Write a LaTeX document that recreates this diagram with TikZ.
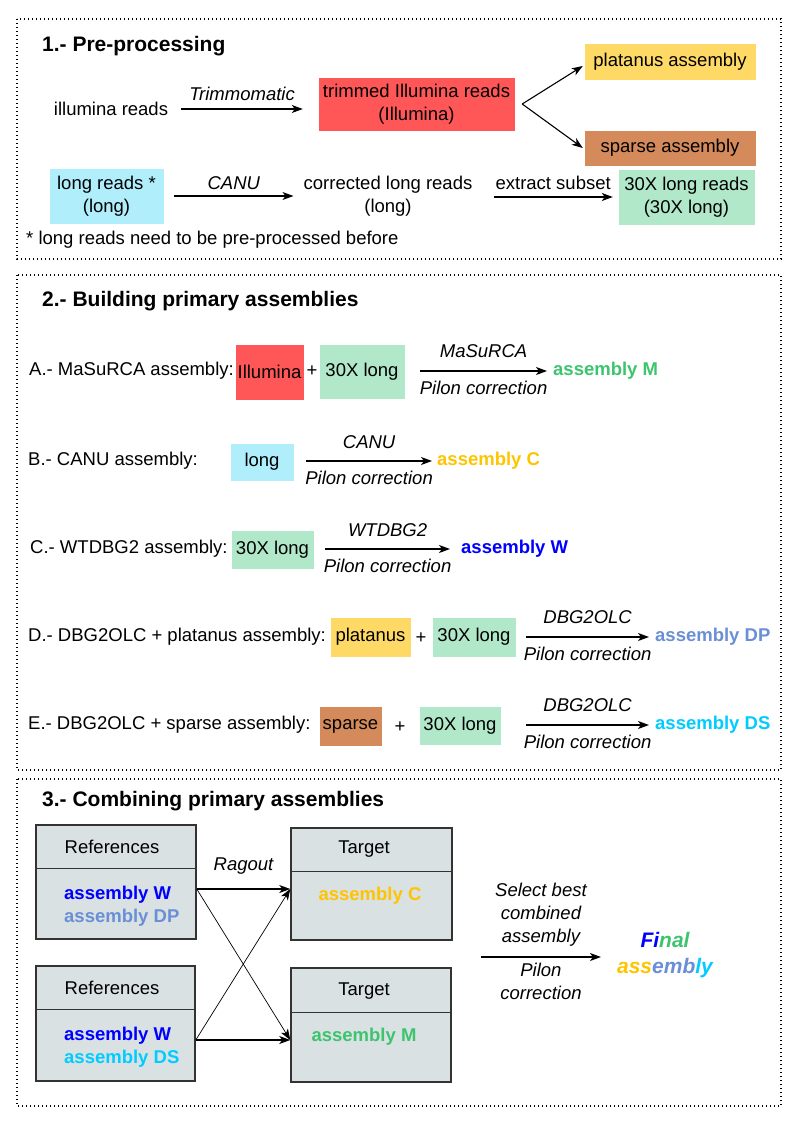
\documentclass[tikz,border=0pt]{standalone}
\usepackage{fontspec}
\setmainfont{Liberation Sans}
\usetikzlibrary{arrows.meta}
\usetikzlibrary{positioning}
\definecolor{asm-red}{HTML}{FF5757}
\definecolor{asm-yellow}{HTML}{FFD966}
\definecolor{asm-brown}{HTML}{D58A5B}
\definecolor{asm-blue}{HTML}{B0EEFC}
\definecolor{asm-green}{HTML}{B0E8C9}
\definecolor{asm-grey}{HTML}{DAE1E3}
\definecolor{asm-edge}{HTML}{333333}
\definecolor{asm-m}{HTML}{3CC46E}
\definecolor{asm-c}{HTML}{FFC400}
\definecolor{asm-w}{HTML}{0000FF}
\definecolor{asm-dp}{HTML}{6A8FD6}
\definecolor{asm-ds}{HTML}{00CCFF}

\begin{document}
\begin{tikzpicture}[x=1pt,y=-1pt,
  every node/.style={inner sep=2pt},
  font=\fontsize{18.5}{23}\selectfont,
  frame/.style={draw, line width=1.3pt, dash pattern=on 1.3pt off 2.7pt},
  ttl/.style={anchor=west, font=\fontsize{21}{25}\selectfont\bfseries},
  box/.style={fill=#1, draw=#1, inner sep=0pt, align=center},
  lbl/.style={font=\fontsize{18.5}{23}\selectfont\itshape, align=center},
  res/.style={anchor=west, text=#1, font=\fontsize{18.5}{23}\selectfont\bfseries},
  grey/.style={draw=asm-edge, line width=1.5pt, fill=asm-grey, inner sep=0pt},
  arr/.style={-{Stealth[length=11pt,width=8pt,inset=3pt]}, line width=1.1pt}]
\useasboundingbox (0,0) rectangle (794,1123);

% 1.- pre-processing
\draw[frame] (17,19) rectangle (781,259);
\node[ttl] (t1) at (40,46) {1.- Pre-processing};
\node (illumina) at (111,109) {illumina reads};
\node[box=asm-red, minimum width=195, minimum height=52] (trimmed) at (416.5,104) {trimmed Illumina reads\\(Illumina)};
\draw[arr] ([xshift=11pt]illumina.east) -- node[above=6pt, lbl] {Trimmomatic} ([xshift=-16pt]trimmed.west |- illumina.east);
\node[box=asm-yellow, minimum width=170, minimum height=35] (platanus) at (670,61.5) {platanus assembly};
\node[box=asm-brown, minimum width=170, minimum height=34] (sparse) at (670,148) {sparse assembly};
\coordinate (fork) at ([xshift=8pt]trimmed.east);
\draw[arr] (fork) -- ([xshift=-2pt,yshift=-4.5pt]platanus.west);
\draw[arr] (fork) -- ([xshift=-2pt]sparse.west);
\node[box=asm-blue, minimum width=113, minimum height=54] (longreads) at (106.5,196) {long reads *\\(long)};
\node[align=center] (corrected) at (388,196) {corrected long reads\\(long)};
\draw[arr] ([xshift=11pt]longreads.east) -- node[above=4pt, lbl] {CANU} ([xshift=-8pt]corrected.west);
\node[box=asm-green, minimum width=135, minimum height=54] (long30) at (686.5,197) {30X long reads\\(30X long)};
\draw[arr] ([xshift=19pt]corrected.east |- long30.west) -- node[above=5pt] {extract subset} ([xshift=-6pt]long30.west);
\node[anchor=west] (note) at (24,240) {* long reads need to be pre-processed before};

% 2.- primary assemblies
\draw[frame] (17,275) rectangle (781,770);
\node[ttl] (t2) at (40,301) {2.- Building primary assemblies};

\node[anchor=west] (rowA) at (27,371) {A.- MaSuRCA assembly:};
\node[box=asm-red, minimum width=67, minimum height=54] (illA) at (269.5,372) {Illumina};
\node (plusA) at (312,371) {+};
\node[box=asm-green, minimum width=84, minimum height=53] (longA) at (362,372) {30X long};
\node[res=asm-m] (asmM) at (551,371) {assembly M};
\draw[arr] ([xshift=16pt]longA.east |- asmM.west) -- node[above=11pt, lbl] {MaSuRCA} node[below=8pt, lbl] {Pilon correction} ([xshift=-4pt]asmM.west);

\node[anchor=west] (rowB) at (26,461) {B.- CANU assembly:};
\node[box=asm-blue, minimum width=62, minimum height=36] (longB) at (262,462) {long};
\node[res=asm-c] (asmC) at (435,461) {assembly C};
\draw[arr] ([xshift=13pt]longB.east |- asmC.west) -- node[above=10pt, lbl] {CANU} node[below=8pt, lbl] {Pilon correction} ([xshift=-3pt]asmC.west);

\node[anchor=west] (rowC) at (28,549) {C.- WTDBG2 assembly:};
\node[box=asm-green, minimum width=81, minimum height=37] (longC) at (272.5,549.5) {30X long};
\node[res=asm-w] (asmW) at (459,549) {assembly W};
\draw[arr] ([xshift=12pt]longC.east |- asmW.west) -- node[above=10pt, lbl] {WTDBG2} node[below=8pt, lbl] {Pilon correction} ([xshift=-9pt]asmW.west);

\node[anchor=west] (rowD) at (26,637) {D.- DBG2OLC + platanus assembly:};
\node[box=asm-yellow, minimum width=79, minimum height=38] (platD) at (370.5,637) {platanus};
\node (plusD) at (421,638) {+};
\node[box=asm-green, minimum width=82, minimum height=38] (longD) at (474,637) {30X long};
\node[res=asm-dp] (asmDP) at (653,637) {assembly DP};
\draw[arr] ([xshift=11pt]longD.east |- asmDP.west) -- node[above=11pt, lbl] {DBG2OLC} node[below=8pt, lbl] {Pilon correction} ([xshift=-4pt]asmDP.west);

\node[anchor=west] (rowE) at (26,725) {E.- DBG2OLC + sparse assembly:};
\node[box=asm-brown, minimum width=61, minimum height=38] (sparseE) at (350.5,726) {sparse};
\node (plusE) at (400,727) {+};
\node[box=asm-green, minimum width=80, minimum height=37] (longE) at (460,726) {30X long};
\node[res=asm-ds] (asmDS) at (653,725) {assembly DS};
\draw[arr] ([xshift=26pt]longE.east |- asmDS.west) -- node[above=11pt, lbl] {DBG2OLC} node[below=8pt, lbl] {Pilon correction} ([xshift=-4pt]asmDS.west);

% 3.- combining
\draw[frame] (17,779) rectangle (781,1106);
\node[ttl] (t3) at (40,801) {3.- Combining primary assemblies};

\node[grey, minimum width=160, minimum height=114] (ref1) at (116,882) {};
\draw[asm-edge, line width=1pt] ([yshift=-44pt]ref1.north west) -- ([yshift=-44pt]ref1.north east);
\node (ref1h) at (112,847) {References};
\node[anchor=west, align=left, font=\fontsize{18.5}{23}\selectfont\bfseries] (ref1c) at (62,906) {\textcolor{asm-w}{assembly W}\\\textcolor{asm-dp}{assembly DP}};

\node[grey, minimum width=159, minimum height=115] (ref2) at (115.5,1023.5) {};
\draw[asm-edge, line width=1pt] ([yshift=-44pt]ref2.north west) -- ([yshift=-44pt]ref2.north east);
\node (ref2h) at (112,988) {References};
\node[anchor=west, align=left, font=\fontsize{18.5}{23}\selectfont\bfseries] (ref2c) at (62,1047) {\textcolor{asm-w}{assembly W}\\\textcolor{asm-ds}{assembly DS}};

\node[grey, minimum width=161, minimum height=112] (tgt1) at (371.5,884) {};
\draw[asm-edge, line width=1pt] ([yshift=-44pt]tgt1.north west) -- ([yshift=-44pt]tgt1.north east);
\node (tgt1h) at (364,849) {Target};
\node[text=asm-c, font=\fontsize{18.5}{23}\selectfont\bfseries] (tgt1c) at (370,896) {assembly C};

\node[grey, minimum width=160, minimum height=114] (tgt2) at (371,1025) {};
\draw[asm-edge, line width=1pt] ([yshift=-45pt]tgt2.north west) -- ([yshift=-45pt]tgt2.north east);
\node (tgt2h) at (364,991) {Target};
\node[text=asm-m, font=\fontsize{18.5}{23}\selectfont\bfseries] (tgt2c) at (364,1037) {assembly M};

\coordinate (r1o) at ([yshift=-7pt]ref1.east);
\coordinate (r2o) at ([yshift=-16.5pt]ref2.east);
\coordinate (t1i) at ([yshift=-5pt]tgt1.west);
\coordinate (t2i) at ([yshift=-15pt]tgt2.west);
\draw[arr] (r1o) -- node[above=12pt, lbl] {Ragout} (t1i);
\draw[arr, line width=0.7pt] (r1o) -- (t2i);
\draw[arr, line width=0.7pt] (r2o) -- (t1i);
\draw[arr] (r2o) -- (t2i);

\node[font=\fontsize{21}{26}\selectfont\bfseries\itshape, align=center] (final) at (665,955)
  {\textcolor{asm-w}{Fi}\textcolor{asm-m}{nal}\\\textcolor{asm-c}{ass}\textcolor{asm-dp}{emb}\textcolor{asm-ds}{ly}};
\coordinate (fin) at (481,957);
\draw[arr] (fin) -- node[above=8pt, lbl] {Select best\\combined\\assembly} node[below=4pt, lbl] {Pilon\\correction} ([xshift=-14pt]final.west |- fin);
\end{tikzpicture}
\end{document}
